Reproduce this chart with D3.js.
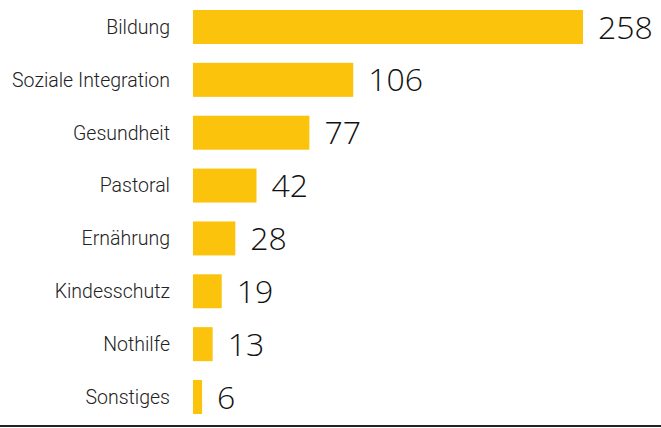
<!DOCTYPE html>
<html>
<head>
<meta charset="utf-8">
<script src="https://cdn.jsdelivr.net/npm/d3@7"></script>
<style>
  body { margin: 0; background: #fff; }
  svg { display: block; }
</style>
</head>
<body>
<div id="chart"></div>
<script>
const categories = ["Bildung", "Soziale Integration", "Gesundheit", "Pastoral", "Ernährung", "Kindesschutz", "Nothilfe", "Sonstiges"];
const values = [258, 106, 77, 42, 28, 19, 13, 6];

const width = 661;
const height = 428;
const margin = {top: 10, right: 0, bottom: 14, left: 193};

const svg = d3.select("#chart").append("svg")
    .attr("width", width)
    .attr("height", height);

const x = d3.scaleLinear()
    .domain([0, 258])
    .range([margin.left, 583]);

const y = d3.scaleBand()
    .domain(categories)
    .range([margin.top, height - margin.bottom])
    .paddingInner(0.357)
    .paddingOuter(0);

const data = categories.map((c, i) => ({name: c, value: values[i]}));

// bars
svg.append("g")
    .attr("fill", "#fbc30b")
  .selectAll("rect")
  .data(data)
  .join("rect")
    .attr("x", x(0))
    .attr("y", d => y(d.name))
    .attr("width", d => x(d.value) - x(0))
    .attr("height", y.bandwidth());

// category labels
svg.append("g")
    .attr("font-family", "Roboto, 'Noto Sans', sans-serif")
    .attr("font-weight", 300)
    .attr("font-size", 19.5)
    .attr("fill", "#222")
    .attr("text-anchor", "end")
  .selectAll("text")
  .data(data)
  .join("text")
    .attr("x", 170)
    .attr("y", d => y(d.name) + y.bandwidth() / 2)
    .attr("dy", "0.35em")
    .text(d => d.name);

// value labels
svg.append("g")
    .attr("font-family", "'Open Sans', Roboto, sans-serif")
    .attr("font-weight", 300)
    .attr("font-size", 32)
    .attr("fill", "#111")
  .selectAll("text")
  .data(data)
  .join("text")
    .attr("x", d => x(d.value) + 15)
    .attr("y", d => y(d.name) + y.bandwidth() / 2)
    .attr("dy", "0.36em")
    .text(d => d.value);

// baseline
svg.append("line")
    .attr("x1", 0)
    .attr("x2", width)
    .attr("y1", 426)
    .attr("y2", 426)
    .attr("stroke", "#222")
    .attr("stroke-width", 2);
</script>
</body>
</html>
